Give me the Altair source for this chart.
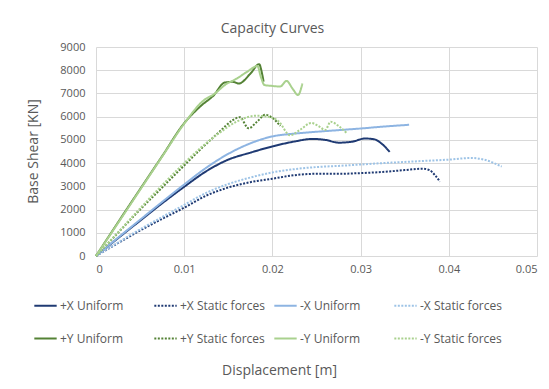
import altair as alt
import pandas as pd

names = ["+X Uniform", "+X Static forces", "-X Uniform", "-X Static forces",
         "+Y Uniform", "+Y Static forces", "-Y Uniform", "-Y Static forces"]
colors = ["#1F3A73", "#1F3A73", "#8DB4E2", "#9DC3E6",
          "#548235", "#548235", "#A9D18E", "#A9D18E"]
dashes = [[1, 0], [2, 1.5], [1, 0], [2, 1.5], [1, 0], [2, 1.5], [1, 0], [2, 1.5]]

px_u_x = [0, 0.0025, 0.005, 0.0075, 0.01, 0.0125, 0.015, 0.0175, 0.02, 0.0225, 0.0245, 0.026, 0.0275, 0.029, 0.0305, 0.0315, 0.0325, 0.0333]
px_u_y = [0, 770, 1520, 2270, 2980, 3650, 4150, 4450, 4720, 4930, 5040, 5000, 4880, 4920, 5060, 5030, 4800, 4480]

px_s_x = [0, 0.0025, 0.005, 0.0075, 0.01, 0.0125, 0.015, 0.0175, 0.02, 0.0225, 0.025, 0.0275, 0.03, 0.0325, 0.035, 0.037, 0.0378, 0.0385, 0.039]
px_s_y = [0, 560, 1100, 1600, 2080, 2600, 2950, 3180, 3330, 3480, 3540, 3540, 3570, 3620, 3700, 3760, 3700, 3450, 3200]

mx_u_x = [0, 0.0025, 0.005, 0.0075, 0.01, 0.0125, 0.015, 0.0175, 0.02, 0.0225, 0.025, 0.0275, 0.03, 0.0325, 0.0355]
mx_u_y = [0, 790, 1560, 2330, 3080, 3800, 4400, 4850, 5150, 5270, 5350, 5420, 5490, 5570, 5650]

mx_s_x = [0, 0.0025, 0.005, 0.0075, 0.01, 0.0125, 0.015, 0.0175, 0.02, 0.0225, 0.025, 0.0275, 0.03, 0.0325, 0.035, 0.0375, 0.04, 0.0425, 0.044, 0.046]
mx_s_y = [0, 580, 1150, 1680, 2200, 2720, 3100, 3380, 3600, 3740, 3830, 3880, 3940, 4000, 4050, 4100, 4150, 4220, 4150, 3850]

py_u_x = [0, 0.0025, 0.005, 0.0075, 0.01, 0.012, 0.0133, 0.0146, 0.0155, 0.0162, 0.0175, 0.0185, 0.0188, 0.019]
py_u_y = [0, 1450, 2880, 4300, 5720, 6500, 6900, 7470, 7500, 7430, 7850, 8260, 7900, 7510]

py_s_x = [0, 0.0025, 0.005, 0.0075, 0.01, 0.012, 0.014, 0.0155, 0.0163, 0.0173, 0.0183, 0.0192, 0.02, 0.0209]
py_s_y = [0, 1000, 2000, 2950, 3900, 4650, 5350, 5850, 5980, 5500, 5800, 6080, 5950, 5600]

my_u_x = [0, 0.0025, 0.005, 0.0075, 0.01, 0.0122, 0.0135, 0.0146, 0.016, 0.0172, 0.0183, 0.0187, 0.0191, 0.0198, 0.0209, 0.0216, 0.0223, 0.0229, 0.0234]
my_u_y = [0, 1420, 2850, 4280, 5700, 6700, 7000, 7360, 7650, 7950, 8180, 7700, 7360, 7330, 7300, 7540, 7200, 6930, 7430]

my_s_x = [0, 0.0025, 0.005, 0.0075, 0.01, 0.012, 0.014, 0.016, 0.0182, 0.02, 0.0207, 0.022, 0.0232, 0.0244, 0.0252, 0.026, 0.0266, 0.0275, 0.0284]
my_s_y = [0, 1020, 2050, 3050, 4000, 4700, 5300, 5800, 6040, 5950, 5800, 5200, 5450, 5730, 5600, 5430, 5780, 5600, 5300]

series_x = [px_u_x, px_s_x, mx_u_x, mx_s_x, py_u_x, py_s_x, my_u_x, my_s_x]
series_y = [px_u_y, px_s_y, mx_u_y, mx_s_y, py_u_y, py_s_y, my_u_y, my_s_y]

rows = []
for name, xs, ys in zip(names, series_x, series_y):
    for i, (xv, yv) in enumerate(zip(xs, ys)):
        rows.append({"series": name, "x": xv, "y": yv, "i": i})
df = pd.DataFrame(rows)

x_ticks = [0, 0.01, 0.02, 0.03, 0.04, 0.05]
y_ticks = [0, 1000, 2000, 3000, 4000, 5000, 6000, 7000, 8000, 9000]

FONT = "Open Sans"
GREY = "#595959"

legend = alt.Legend(
    title=None, orient="none", legendX=-63, legendY=246, columns=4,
    direction="horizontal", gridAlign="all", columnPadding=5, rowPadding=14,
    symbolType="stroke", symbolSize=500, symbolStrokeWidth=2,
    labelFont=FONT, labelFontSize=12, labelColor=GREY, labelOffset=2,
)

chart = alt.Chart(df).mark_line(strokeWidth=2, interpolate="monotone").encode(
    x=alt.X("x:Q", scale=alt.Scale(domain=[0, 0.05], nice=False),
            axis=alt.Axis(values=x_ticks, format="~g", title="Displacement [m]",
                          titleX=183, titleY=114, titleAlign="center", titleBaseline="middle",
                          titleFont=FONT, titleFontSize=14, titleFontWeight="normal", titleColor=GREY,
                          labelFont=FONT, labelFontSize=11, labelColor=GREY, labelPadding=7,
                          domain=False, ticks=False, grid=True, gridColor="#D9D9D9")),
    y=alt.Y("y:Q", scale=alt.Scale(domain=[0, 9000], nice=False),
            axis=alt.Axis(values=y_ticks, format="d", title="Base Shear [KN]",
                          titleX=-63, titleY=104, titleAlign="center", titleBaseline="middle",
                          titleFont=FONT, titleFontSize=14, titleFontWeight="normal", titleColor=GREY,
                          labelFont=FONT, labelFontSize=11, labelColor=GREY, labelPadding=11,
                          domain=False, ticks=False, grid=True, gridColor="#D9D9D9")),
    color=alt.Color("series:N", scale=alt.Scale(domain=names, range=colors), legend=legend),
    strokeDash=alt.StrokeDash("series:N", scale=alt.Scale(domain=names, range=dashes), legend=legend),
    order="i:Q",
).properties(
    width=441, height=209,
    title=alt.TitleParams("Capacity Curves", font=FONT, fontSize=14, fontWeight="normal",
                          color=GREY, anchor="middle", dx=-44, offset=5),
    autosize=alt.AutoSizeParams(type="none"),
    padding={"left": 88, "top": 39, "right": 4, "bottom": 124},
).configure_view(stroke=None)

chart.save("out.html", embed_options={"renderer": "svg", "actions": False})
